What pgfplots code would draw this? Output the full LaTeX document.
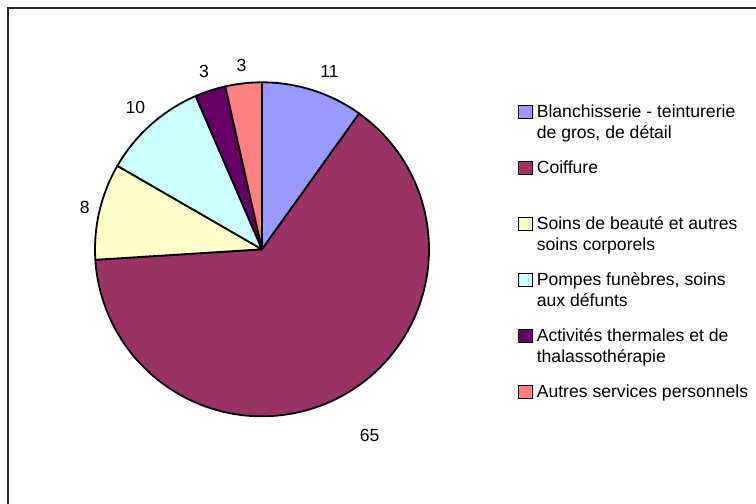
\documentclass[border=0pt]{standalone}
\usepackage{fontspec}
\setmainfont{Liberation Sans}
\usepackage{pgfplots}
\usepackage{pgfplotstable}
\pgfplotsset{compat=1.18}
\definecolor{c1}{HTML}{9999FF}
\definecolor{c2}{HTML}{993366}
\definecolor{c3}{HTML}{FFFFCC}
\definecolor{c4}{HTML}{CCFFFF}
\definecolor{c5}{HTML}{660066}
\definecolor{c6}{HTML}{FF8080}
\pgfplotstableread[col sep=comma]{
val,lab,col,dist,off
9.89,11,c1,1.14,-3
64.11,65,c2,1.29,1
9.33,8,c3,1.09,0
10.17,10,c4,1.14,0
2.97,3,c5,1.12,0
3.53,3,c6,1.11,0
}\pietable
\newcommand{\legtext}[2]{\parbox[t]{120pt}{\strut #1\\\strut #2}}
\begin{document}
\begin{tikzpicture}[font=\fontsize{8.8}{10.5}\selectfont]
\draw[line width=0.65pt, black!85] (4pt,-252pt) -- (4pt,-4pt) -- (378pt,-4pt);
\begin{axis}[at={(131pt,-124.65pt)}, anchor=center, scale only axis,
  width=167pt, height=167pt, xmin=-1, xmax=1, ymin=-1, ymax=1,
  hide axis, clip=false,
  legend style={at={(1.2665,0.941)}, anchor=north west, draw=none, fill=none,
    inner sep=0pt, outer sep=0pt, row sep=6.5pt, column sep=2pt,
    nodes={inner sep=0pt, outer sep=0pt, text height=7.5pt, text depth=14pt},
    font=\fontsize{8.8}{10.5}\selectfont},
  legend cell align=left,
  legend image code/.code={\draw[#1] (0pt,2.4pt) rectangle (6.8pt,9.2pt);}]
\pgfplotstablegetrowsof{\pietable}
\pgfmathtruncatemacro{\nrows}{\pgfplotsretval-1}
\def\pcum{0}
\pgfplotsforeachungrouped \i in {0,...,\nrows}{%
  \pgfplotstablegetelem{\i}{val}\of{\pietable}\let\pval\pgfplotsretval
  \pgfplotstablegetelem{\i}{col}\of{\pietable}\let\pcol\pgfplotsretval
  \pgfplotstablegetelem{\i}{lab}\of{\pietable}\let\plab\pgfplotsretval
  \pgfplotstablegetelem{\i}{dist}\of{\pietable}\let\pdist\pgfplotsretval
  \pgfplotstablegetelem{\i}{off}\of{\pietable}\let\poff\pgfplotsretval
  \pgfmathsetmacro{\pa}{90-3.6*\pcum}%
  \pgfmathsetmacro{\pb}{90-3.6*(\pcum+\pval)}%
  \pgfmathsetmacro{\pmid}{(\pa+\pb)/2+\poff}%
  \edef\temp{\noexpand\filldraw[fill=\pcol, draw=black, line width=0.9pt, line join=round]
    (axis cs:0,0) -- (axis cs:{cos(\pa)},{sin(\pa)})
    arc[start angle=\pa, end angle=\pb, radius=83.5pt] -- cycle;
    \noexpand\node at (axis cs:{\pdist*cos(\pmid)},{\pdist*sin(\pmid)}) {\plab};}%
  \temp
  \pgfmathsetmacro{\pcum}{\pcum+\pval}%
}
\addlegendimage{fill=c1, draw=black, line width=0.6pt}
\addlegendentry{\legtext{Blanchisserie - teinturerie}{de gros, de détail}}
\addlegendimage{fill=c2, draw=black, line width=0.6pt}
\addlegendentry{\legtext{Coiffure}{}}
\addlegendimage{fill=c3, draw=black, line width=0.6pt}
\addlegendentry{\legtext{Soins de beauté et autres}{soins corporels}}
\addlegendimage{fill=c4, draw=black, line width=0.6pt}
\addlegendentry{\legtext{Pompes funèbres, soins}{aux défunts}}
\addlegendimage{fill=c5, draw=black, line width=0.6pt}
\addlegendentry{\legtext{Activités thermales et de}{thalassothérapie}}
\addlegendimage{fill=c6, draw=black, line width=0.6pt}
\addlegendentry{\legtext{Autres services personnels}{}}
\end{axis}
\pgfresetboundingbox
\useasboundingbox (0,0) rectangle (378pt,-252pt);
\end{tikzpicture}
\end{document}
